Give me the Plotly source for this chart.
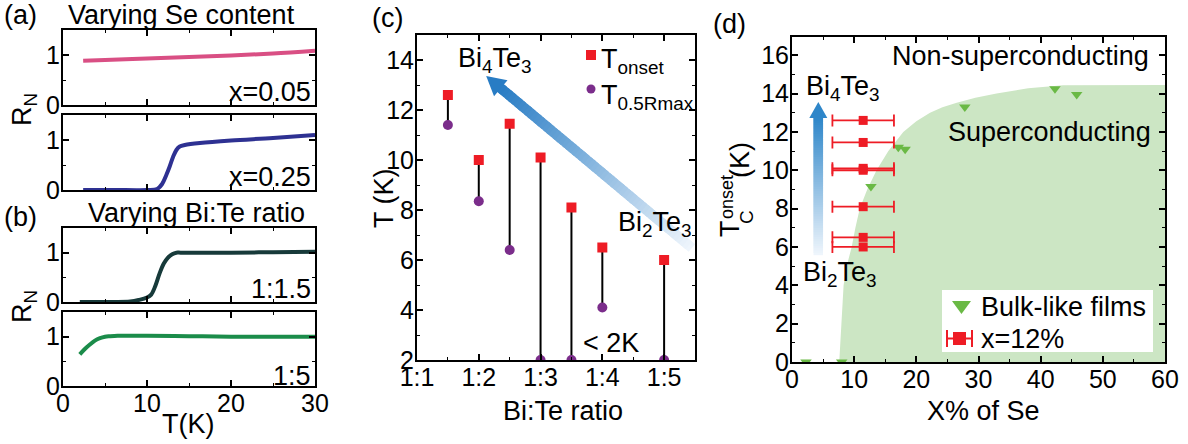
import math
import plotly.graph_objects as go

W, H = 1188, 444
FONT = "Liberation Sans, Arial, sans-serif"

# ---------------- data ----------------
# (a) varying Se content
T_se05 = [2.4, 5, 10, 15, 20, 25, 30]
R_se05 = [0.886, 0.90, 0.93, 0.96, 0.99, 1.03, 1.085]
T_se25 = [2.4, 6, 10, 11.2, 11.8, 12.3, 12.7, 13.1, 13.5, 13.9, 14.5, 16.3, 20, 25, 30]
R_se25 = [0.0, 0.0, 0.0, 0.02, 0.12, 0.3, 0.47, 0.66, 0.8, 0.87, 0.9, 0.94, 0.99, 1.04, 1.1]
# (b) varying Bi:Te ratio
T_r15 = [2, 6, 8, 9, 10, 10.5, 11, 11.5, 12, 12.5, 13, 13.5, 14, 16, 20, 25, 30]
R_r15 = [0.0, 0.0, 0.01, 0.04, 0.09, 0.15, 0.33, 0.58, 0.78, 0.9, 0.97, 1.0, 1.0, 1.0, 1.0, 1.01, 1.02]
T_r5 = [2, 2.6, 3.2, 3.8, 4.4, 5, 5.6, 6.5, 8, 10, 15, 20, 25, 30]
R_r5 = [0.64, 0.75, 0.84, 0.92, 0.97, 1.0, 1.01, 1.02, 1.02, 1.02, 1.01, 1.0, 1.0, 1.0]

# (c) transition temperatures vs Bi:Te ratio
ratio_pos = [1.5, 2, 2.5, 3, 3.5, 4, 5]
ratio_ticks = [1, 2, 3, 4, 5]
ratio_labels = ["1:1", "1:2", "1:3", "1:4", "1:5"]
T_onset = [12.6, 10.0, 11.45, 10.1, 8.1, 6.5, 6.0]
T_half = [11.4, 8.35, 6.4, 2.0, 2.0, 4.1, 2.0]

# (d) phase diagram
Se_bulk = [2.25, 8.0, 12.7, 17.1, 18.2, 27.8, 42.3, 45.8]
Tc_bulk = [0.0, 0.0, 9.15, 11.2, 11.1, 13.3, 14.25, 13.95]
Se_film = [11.45] * len(T_onset)
Se_film_err = [4.95] * len(T_onset)
Tc_film = T_onset
bound_x = [7.6, 7.9, 8.3, 8.8, 9.6, 10.2, 10.9, 12.1, 13.6, 15.5, 17.9, 20.0, 22.2, 24.2,
           26.5, 29.5, 32.9, 38.0, 43.6, 60.0]
bound_y = [0.0, 2.0, 4.0, 5.0, 6.0, 7.0, 8.0, 9.0, 10.0, 11.0, 12.0, 12.55, 13.0, 13.28,
           13.52, 13.78, 14.0, 14.28, 14.43, 14.45]

# ---------------- layout geometry (pixels) ----------------
LX = (63, 315)
ROWS = [(30, 105), (115, 190), (228, 302), (312, 386)]
CX, CY = (417, 695), (35, 360)
DX, DY = (792, 1165), (37, 362)
C_XR, C_YR = [1, 5.5], [2, 15]
D_XR, D_YR = [0, 60], [0, 16.95]
TF = 25   # tick font size
LF = 27   # label font size


def px(x):
    return x / W


def py(y):
    return 1 - y / H


def dx(a, b):
    return [a / W, b / W]


def dy(top, bot):
    return [1 - bot / H, 1 - top / H]


def data2px(x, y, xd, yd, xr, yr):
    X = xd[0] + (x - xr[0]) / (xr[1] - xr[0]) * (xd[1] - xd[0])
    Y = yd[1] - (y - yr[0]) / (yr[1] - yr[0]) * (yd[1] - yd[0])
    return X, Y


tickfont = dict(family=FONT, size=TF, color="black")


def minor(d):
    return dict(dtick=d, ticks="inside", ticklen=3, tickwidth=1, tickcolor="black", showgrid=False)


def ax(**kw):
    d = dict(showline=True, linecolor="black", linewidth=2, mirror="allticks",
             ticks="inside", ticklen=6, tickwidth=1.5, tickcolor="black",
             showgrid=False, zeroline=False, tickfont=tickfont, automargin=False)
    d.update(kw)
    return d


XSO, YSO = -6, -4   # tick label standoffs

fig = go.Figure()

# ---- left stack ----
left_series = [(T_se05, R_se05, "#d94f84"), (T_se25, R_se25, "#2e3192"),
               (T_r15, R_r15, "#173a3a"), (T_r5, R_r5, "#1b8c4a")]
layout = {}
for i, ((t, r, col), (top, bot)) in enumerate(zip(left_series, ROWS)):
    n = "" if i == 0 else str(i + 1)
    fig.add_trace(go.Scatter(x=t, y=r, mode="lines", line=dict(color=col, width=4, shape="spline"),
                             xaxis="x" + n, yaxis="y" + n, showlegend=False))
    layout["xaxis" + n] = ax(domain=dx(*LX), anchor="y" + n, range=[0, 30], dtick=10,
                             showticklabels=(i == 3), minor=minor(5), ticklabelstandoff=XSO)
    layout["yaxis" + n] = ax(domain=dy(top, bot), anchor="x" + n, range=[0, 1.5], tickvals=[0, 1],
                             minor=minor(0.5), ticklabelstandoff=YSO)

# ---- panel (c) ----
stem_x, stem_y = [], []
for xv, a, b in zip(ratio_pos, T_half, T_onset):
    stem_x += [xv, xv, None]
    stem_y += [a, b, None]
fig.add_trace(go.Scatter(x=stem_x, y=stem_y, mode="lines", line=dict(color="black", width=2),
                         xaxis="x5", yaxis="y5", showlegend=False))
fig.add_trace(go.Scatter(x=ratio_pos, y=T_onset, mode="markers", name="T<sub>onset</sub>",
                         marker=dict(symbol="square", size=10, color="#ee1c25"),
                         xaxis="x5", yaxis="y5", showlegend=False))
fig.add_trace(go.Scatter(x=ratio_pos, y=T_half, mode="markers", name="T<sub>0.5Rmax</sub>",
                         marker=dict(symbol="circle", size=10, color="#7b2d8b"),
                         xaxis="x5", yaxis="y5", showlegend=False))
layout["xaxis5"] = ax(domain=dx(*CX), anchor="y5", range=C_XR, tickvals=ratio_ticks, ticktext=ratio_labels,
                      minor=minor(0.5), ticklabelstandoff=XSO)
layout["yaxis5"] = ax(domain=dy(*CY), anchor="x5", range=C_YR, dtick=2, tick0=0, minor=minor(1),
                      ticklabelstandoff=YSO)

# ---- panel (d) ----
fig.add_trace(go.Scatter(x=bound_x + [D_XR[1]], y=bound_y + [0], mode="lines", fill="toself",
                         fillcolor="#cce6c4", line=dict(width=0),
                         xaxis="x6", yaxis="y6", showlegend=False))
fig.add_trace(go.Scatter(x=Se_bulk, y=Tc_bulk, mode="markers", name="Bulk-like films",
                         marker=dict(symbol="triangle-down", size=10, color="#6ab945"),
                         xaxis="x6", yaxis="y6", showlegend=False))
fig.add_trace(go.Scatter(x=Se_film, y=Tc_film, mode="markers", name="x=12%",
                         marker=dict(symbol="square", size=9, color="#ee1c25"),
                         error_x=dict(type="data", array=Se_film_err, color="#ee1c25", thickness=1.8, width=6),
                         xaxis="x6", yaxis="y6", showlegend=False))
layout["xaxis6"] = ax(domain=dx(*DX), anchor="y6", range=D_XR, dtick=10, minor=minor(5),
                      ticklabelstandoff=XSO)
layout["yaxis6"] = ax(domain=dy(*DY), anchor="x6", range=D_YR, dtick=2, tick0=0, minor=minor(1),
                      ticklabelstandoff=YSO)

# ---------------- shapes: gradient arrows & legends ----------------
shapes = []


def lerp(c0, c1, t):
    return "rgb(%d,%d,%d)" % tuple(round(a + (b - a) * t) for a, b in zip(c0, c1))


def ppath(pts):
    return "M " + " L ".join("%.5f,%.5f" % (px(x), py(y)) for x, y in pts) + " Z"


def grad_arrow(p0, p1, shaft_w, head_w, head_len, c0, c1, n=60):
    ddx, ddy = p1[0] - p0[0], p1[1] - p0[1]
    L = math.hypot(ddx, ddy)
    ux, uy = ddx / L, ddy / L
    nx, ny = -uy, ux
    Ls = L - head_len
    hw = shaft_w / 2
    for i in range(n):
        t0, t1 = i / n, min(1.0, (i + 1.6) / n)
        a = (p0[0] + ux * Ls * t0, p0[1] + uy * Ls * t0)
        b = (p0[0] + ux * (Ls * t1 + 1), p0[1] + uy * (Ls * t1 + 1))
        pts = [(a[0] + nx * hw, a[1] + ny * hw), (b[0] + nx * hw, b[1] + ny * hw),
               (b[0] - nx * hw, b[1] - ny * hw), (a[0] - nx * hw, a[1] - ny * hw)]
        shapes.append(dict(type="path", path=ppath(pts), xref="paper", yref="paper",
                           fillcolor=lerp(c0, c1, (i + 0.5) / n), line=dict(width=0), layer="above"))
    base = (p0[0] + ux * Ls, p0[1] + uy * Ls)
    pts = [(base[0] + nx * head_w / 2, base[1] + ny * head_w / 2), p1,
           (base[0] - nx * head_w / 2, base[1] - ny * head_w / 2)]
    shapes.append(dict(type="path", path=ppath(pts), xref="paper", yref="paper",
                       fillcolor=lerp(c0, c1, 1.0), line=dict(width=0), layer="above"))


WHITE_BLUE = (240, 246, 252)
BLUE = (40, 124, 196)
# (c) arrow Bi2Te3 -> Bi4Te3
c_tail = data2px(5.45, 6.48, CX, CY, C_XR, C_YR)
c_tip = data2px(2.12, 13.36, CX, CY, C_XR, C_YR)
grad_arrow(c_tail, c_tip, 10, 21, 19, WHITE_BLUE, BLUE)
# (d) vertical arrow
d_tail = data2px(4.23, 5.57, DX, DY, D_XR, D_YR)
d_tip = data2px(4.23, 13.56, DX, DY, D_XR, D_YR)
grad_arrow(d_tail, d_tip, 9.5, 18, 16, WHITE_BLUE, (46, 134, 201))

# legend (c)
shapes.append(dict(type="rect", xref="paper", yref="paper", x0=px(586), x1=px(596), y0=py(60), y1=py(50),
                   fillcolor="#ee1c25", line=dict(width=0)))
shapes.append(dict(type="circle", xref="paper", yref="paper", x0=px(586.5), x1=px(595.5), y0=py(93.5), y1=py(84.5),
                   fillcolor="#7b2d8b", line=dict(width=0)))
# legend (d)
shapes.append(dict(type="rect", xref="paper", yref="paper", x0=px(942), x1=px(1153), y0=py(352), y1=py(290),
                   fillcolor="white", line=dict(width=0), layer="above"))
shapes.append(dict(type="path", xref="paper", yref="paper",
                   path=ppath([(952, 301), (971, 301), (961.5, 314)]), fillcolor="#6ab945", line=dict(width=0),
                   layer="above"))
for seg in [((947, 338.5), (972, 338.5)), ((947, 330), (947, 347)), ((972, 330), (972, 347))]:
    shapes.append(dict(type="line", xref="paper", yref="paper", x0=px(seg[0][0]), y0=py(seg[0][1]),
                       x1=px(seg[1][0]), y1=py(seg[1][1]), line=dict(color="#ee1c25", width=2), layer="above"))
shapes.append(dict(type="rect", xref="paper", yref="paper", x0=px(953), x1=px(966), y0=py(345), y1=py(332),
                   fillcolor="#ee1c25", line=dict(width=0), layer="above"))

# ---------------- annotations ----------------
ann = []


def txt(text, x, y, size=LF, xanchor="center", yanchor="middle", textangle=0, xref="paper", yref="paper"):
    if xref == "paper":
        x, y = px(x), py(y)
    ann.append(dict(text=text, x=x, y=y, xref=xref, yref=yref, xanchor=xanchor, yanchor=yanchor,
                    showarrow=False, textangle=textangle, font=dict(family=FONT, size=size, color="black")))


# panel (a)/(b)
txt("(a)", 20, 15)
txt("Varying Se content", 181, 15)
txt("(b)", 20, 217)
txt("Varying Bi:Te ratio", 196, 213)
txt("R<sub>N</sub>", 24, 110, textangle=-90)
txt("R<sub>N</sub>", 24, 307, textangle=-90)
txt("x=0.05", 313, 92, xanchor="right")
txt("x=0.25", 313, 177, xanchor="right")
txt("1:1.5", 313, 289, xanchor="right")
txt("1:5", 313, 376, xanchor="right")
txt("T(K)", 188, 424)
# panel (c)
txt("(c)", 387, 18)
txt("T (K)", 384, 198, textangle=-90)
txt("Bi:Te ratio", 563, 411)
txt("Bi<sub>4</sub>Te<sub>3</sub>", 1.63, 14.0, xanchor="left", xref="x5", yref="y5")
txt("Bi<sub>2</sub>Te<sub>3</sub>", 4.22, 7.45, xanchor="left", xref="x5", yref="y5")
txt("< 2K", 3.66, 2.68, xanchor="left", xref="x5", yref="y5")
txt("T<sub>onset</sub>", 599, 61, xanchor="left")
txt("T<sub>0.5Rmax</sub>", 599, 97, xanchor="left")
# panel (d)
txt("(d)", 729, 24)
txt("X% of Se", 983, 411)
txt("T", 730, 229, textangle=-90)
txt("onset", 727, 197, size=18, textangle=-90)
txt("C", 746, 217, size=19, textangle=-90)
txt("(K)", 740, 160, textangle=-90)
txt("Non-superconducting", 57.8, 15.95, xanchor="right", xref="x6", yref="y6")
txt("Superconducting", 58.0, 12.0, xanchor="right", xref="x6", yref="y6")
txt("Bi<sub>4</sub>Te<sub>3</sub>", 2.0, 14.3, xanchor="left", xref="x6", yref="y6")
txt("Bi<sub>2</sub>Te<sub>3</sub>", 1.5, 4.6, xanchor="left", xref="x6", yref="y6")
txt("Bulk-like films", 979, 307, xanchor="left")
txt("x=12%", 979, 339, xanchor="left")

fig.update_layout(width=W, height=H, margin=dict(l=0, r=0, t=0, b=0), paper_bgcolor="white",
                  plot_bgcolor="rgba(0,0,0,0)", showlegend=False, shapes=shapes, annotations=ann,
                  font=dict(family=FONT, size=TF, color="black"), **layout)
fig.write_html("out.html", config={"displayModeBar": False},
               post_script="document.body.style.margin='0px';document.body.style.padding='0px';")
